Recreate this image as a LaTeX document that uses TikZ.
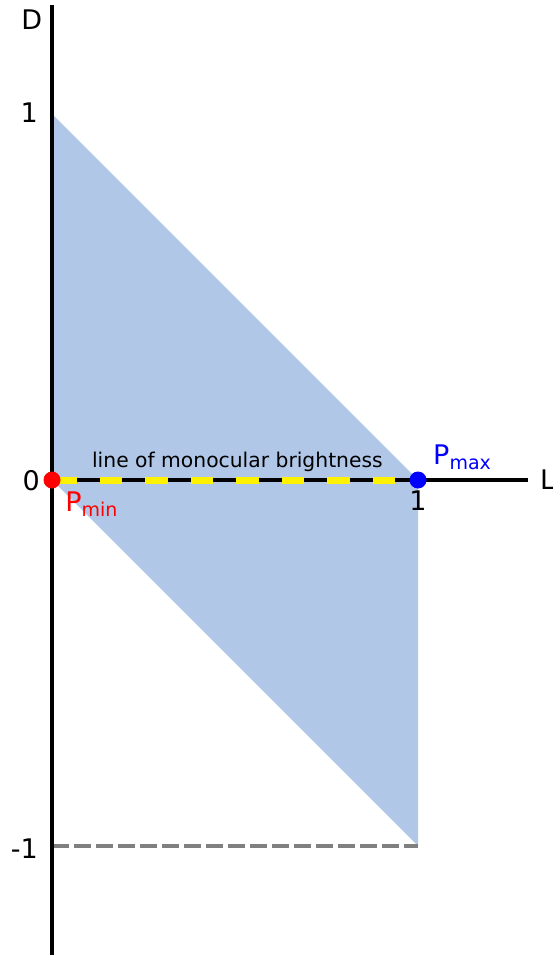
\documentclass[tikz,border=0pt]{standalone}
\usepackage{fontspec}
\setmainfont{DejaVu Sans}
\usepackage{tikz}
\definecolor{regionfill}{RGB}{177,199,232}
\definecolor{minpoint}{RGB}{255,0,0}
\definecolor{maxpoint}{RGB}{0,0,255}
\definecolor{limitgray}{RGB}{128,128,128}
\tikzset{
  axisline/.style={line width=3.5pt,black},
  monoline/.style={line width=7pt,yellow,dash pattern=on 22.5pt off 23pt,dash phase=-2pt},
  limitline/.style={line width=4pt,limitgray,dash pattern=on 17pt off 5pt},
  ticklabel/.style={font=\fontsize{27}{31}\selectfont,inner sep=0pt},
  sublabel/.style={font=\fontsize{20.3}{24}\selectfont,inner sep=0pt},
  endpoint/.style={circle,inner sep=0pt,minimum size=17pt}
}
\newcommand{\psub}[1]{P\raisebox{-5pt}{\fontsize{19}{22}\selectfont #1}}

\begin{document}
\begin{tikzpicture}[x=366pt,y=366pt]
  \useasboundingbox (-0.1421,-1.3060) rectangle (1.3661,1.3115);

  \coordinate (O)    at (0,0);
  \coordinate (Dtop) at (0,1.2978);
  \coordinate (Dbot) at (0,-1.2978);
  \coordinate (Lend) at (1.3005,0);
  \coordinate (Done) at (0,1);
  \coordinate (Lone) at (1,0);
  \coordinate (Cor)  at (1,-1);
  \coordinate (Dneg) at (0,-1);

  % admissible region
  \fill[regionfill] (Done) -- (Lone) -- (Cor) -- (O) -- cycle;
  \draw[limitline] (Dneg) -- (Cor);

  % axes
  \draw[axisline] (Dbot) -- (Dtop);
  \draw[axisline] (O) -- (Lend);
  \draw[monoline] (O) -- (Lone);

  \node[endpoint,fill=minpoint] (pmin) at (O) {};
  \node[endpoint,fill=maxpoint] (pmax) at (Lone) {};

  \node[ticklabel,anchor=base] (labD)  at (-0.055,1.232) {D};
  \node[ticklabel,anchor=base east] (lab1)  at (-0.038,0.978) {1};
  \node[ticklabel,anchor=base east] (lab0)  at (-0.033,-0.030) {0};
  \node[ticklabel,anchor=base east] (labm1) at (-0.038,-1.033) {-1};
  \node[ticklabel,anchor=base west] (labL)  at (1.333,-0.027) {L};
  \node[ticklabel,anchor=base] (labL1) at (1.0,-0.082) {1};

  \node[ticklabel,anchor=base west,text=minpoint] (labpmin) at (0.036,-0.087) {\psub{min}};
  \node[ticklabel,anchor=base west,text=maxpoint] (labpmax) at (1.041,0.041) {\psub{max}};
  \node[sublabel,anchor=base west] (labmono) at (0.109,0.0355) {line of monocular brightness};
\end{tikzpicture}
\end{document}
